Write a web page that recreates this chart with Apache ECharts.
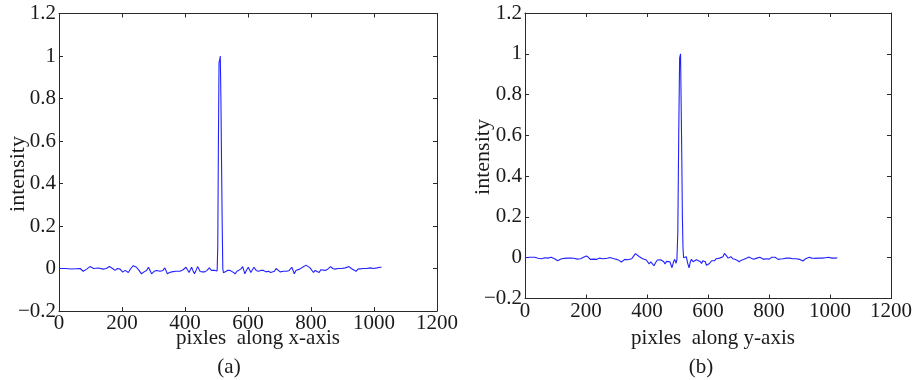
<!DOCTYPE html>
<html>
<head>
<meta charset="utf-8">
<script src="https://cdn.jsdelivr.net/npm/echarts@6/dist/echarts.min.js"></script>
<style>html,body{margin:0;padding:0;background:#fff}#c{width:915px;height:380px}</style>
</head>
<body>
<div id="c"></div>
<script>
// ---- data ----
var xTicks = [0, 200, 400, 600, 800, 1000, 1200];
var yTicks = [-0.2, 0, 0.2, 0.4, 0.6, 0.8, 1, 1.2];

var pixA = [0,20,40,67,77,88,98,110,125,140,150,160,170,178,186,194,202,210,215,220,228,236,246,254,262,270,278,284,289,294,302,310,321,330,336,344,351,358,370,384,394,403,408,413,417,421,425,430,435,440,448,455,463,470,477,484,490,495,498,502,504,506,508,510,512,514,516,518,520,522,527,535,543,551,559,565,570,577,583,590,596,601,609,614,619,626,633,641,649,657,665,672,678,684,689,695,702,712,723,731,739,747,752,758,764,770,777,784,790,797,803,808,813,818,826,831,837,845,853,862,869,876,886,897,909,921,928,934,943,949,955,966,977,988,998,1010,1019,1024];
var intA = [0,0,-0.002,0,-0.013,-0.003,0.009,0,0.002,-0.003,0,0.009,0,-0.009,0,-0.003,-0.017,-0.009,-0.003,-0.019,0,0.013,0.006,-0.009,-0.025,-0.016,-0.009,0.006,-0.009,-0.025,-0.013,-0.009,-0.013,-0.009,0.003,-0.025,-0.019,-0.016,-0.013,-0.013,-0.006,0.006,-0.003,-0.019,-0.006,0.006,-0.009,-0.025,-0.009,0.009,-0.014,-0.016,-0.016,-0.009,0.003,-0.009,-0.016,-0.009,-0.006,-0.012,0.1,0.57,0.97,0.98,1.0,0.8,0.5,0.22,0.0,-0.02,-0.022,-0.009,-0.009,-0.016,-0.025,-0.013,-0.009,-0.003,0.009,-0.025,-0.006,0.006,-0.019,-0.006,0.006,-0.009,-0.013,-0.009,-0.009,-0.016,-0.013,-0.019,-0.028,-0.013,0,-0.009,-0.016,-0.013,-0.013,-0.009,0.006,-0.025,-0.009,0,-0.003,0.003,0.009,0.016,0.009,0.003,-0.006,-0.019,-0.009,-0.009,-0.019,-0.006,0.003,-0.009,-0.003,0.009,0,-0.003,0,0,0.003,0.009,0,-0.003,-0.013,-0.003,0.003,0,0,0.003,0,0.003,0.006,0.006];

var pixB = [0,16,32,43,54,65,75,86,97,107,118,129,140,150,160,171,182,192,201,208,214,225,236,243,249,256,262,270,278,284,292,300,308,316,322,327,332,337,343,350,356,362,368,375,380,386,392,398,402,407,412,418,423,428,434,440,445,450,455,459,464,469,475,482,487,491,495,498,501,504,507,510,512,514,516,518,520,523,526,529,533,538,542,546,551,557,562,568,574,579,583,587,591,595,600,605,612,621,627,632,638,643,649,654,660,666,671,675,681,688,695,702,710,718,726,734,742,750,760,770,776,782,790,801,808,814,820,826,830,838,846,857,868,878,889,900,911,920,932,940,948,954,962,975,985,996,1006,1018,1024];
var intB = [0,0.002,0.002,-0.003,-0.005,0,-0.002,0.002,-0.005,-0.015,-0.006,-0.003,-0.002,-0.002,-0.003,-0.007,-0.005,0.002,0.008,0.002,-0.008,-0.007,-0.008,-0.002,0.003,-0.005,-0.008,-0.003,0.001,0.002,-0.005,-0.008,-0.013,-0.021,-0.012,-0.008,-0.003,-0.01,-0.015,-0.005,0.008,0.02,0.012,0.005,-0.002,-0.005,-0.008,-0.011,-0.02,-0.031,-0.02,-0.021,-0.039,-0.025,-0.011,-0.015,-0.01,-0.011,-0.02,-0.031,-0.018,-0.011,-0.02,-0.049,-0.02,-0.008,-0.028,-0.011,0.12,0.6,0.98,1.0,0.75,0.5,0.2,0.05,0.0,-0.008,0.0,0.005,-0.025,-0.05,-0.02,-0.008,-0.02,-0.021,-0.01,-0.005,-0.018,-0.028,-0.015,-0.008,-0.02,-0.037,-0.028,-0.028,-0.015,-0.015,-0.005,0.002,-0.002,-0.005,0.005,0.021,0.01,-0.002,0.003,0.005,-0.005,-0.008,-0.012,-0.02,-0.012,-0.008,-0.003,0.003,-0.003,-0.008,-0.002,0.002,-0.005,-0.008,-0.005,-0.007,0.002,0.011,0.002,-0.005,-0.008,-0.006,-0.005,-0.002,-0.002,-0.005,-0.005,-0.008,-0.016,-0.005,0.002,-0.002,-0.003,-0.005,-0.002,-0.002,0,0.002,-0.002,-0.002,0];

var xNameA = 'pixles  along x-axis';
var xNameB = 'pixles  along y-axis';
var yName = 'intensity';
var capA = '(a)', capB = '(b)';

// ---- chart ----
var FONT = 'Liberation Serif';
var TXT = '#1a1a1a';
var LINE = '#2a2a2a';
var FS = 21;
function pairs(xs, ys) { return xs.map(function (x, i) { return [x, ys[i]]; }); }
function yFmt(v) { var s = String(+(+v).toFixed(1)); return s.replace('-', '\u2212'); }
function xFmt(v) { return String(Math.round(v)); }

var grids = [
  { left: 59, top: 13.5, width: 378, height: 297.5 },
  { left: 525, top: 13, width: 373, height: 285.5 }
];

var xAxes = [], yAxes = [], series = [];
[0, 1].forEach(function (g) {
  var common = { min: xTicks[0], max: xTicks[xTicks.length - 1], interval: 200, gridIndex: g, type: 'value',
    splitLine: { show: false }, axisLine: { show: true, onZero: false, lineStyle: { color: LINE, width: 1 } },
    axisTick: { show: true, inside: true, length: 4, lineStyle: { color: LINE } } };
  xAxes.push(Object.assign({}, common, { position: 'bottom',
    axisLabel: { show: true, fontFamily: FONT, fontSize: FS, color: TXT, margin: 2, formatter: xFmt } }));
  xAxes.push(Object.assign({}, common, { position: 'top', axisLabel: { show: false } }));
  var ycommon = { min: yTicks[0], max: yTicks[yTicks.length - 1], interval: 0.2, gridIndex: g, type: 'value',
    splitLine: { show: false }, axisLine: { show: true, onZero: false, lineStyle: { color: LINE, width: 1 } },
    axisTick: { show: true, inside: true, length: 4, lineStyle: { color: LINE } } };
  yAxes.push(Object.assign({}, ycommon, { position: 'left',
    axisLabel: { show: true, fontFamily: FONT, fontSize: FS, color: TXT, margin: 3, formatter: yFmt } }));
  yAxes.push(Object.assign({}, ycommon, { position: 'right', axisLabel: { show: false } }));
});

series.push({ type: 'line', xAxisIndex: 0, yAxisIndex: 0, data: pairs(pixA, intA), showSymbol: false,
  lineStyle: { color: '#2222ff', width: 1.1 }, animation: false });
series.push({ type: 'line', xAxisIndex: 2, yAxisIndex: 2, data: pairs(pixB, intB), showSymbol: false,
  lineStyle: { color: '#2222ff', width: 1.1 }, animation: false });

function txt(x, y, s, rot, fs) {
  return { type: 'text', x: x, y: y, rotation: rot || 0,
    style: { text: s, font: (fs || FS) + 'px "' + FONT + '"', fill: TXT, align: 'center', verticalAlign: 'middle' } };
}

var chart = echarts.init(document.getElementById('c'), null, { renderer: 'canvas' });
chart.setOption({
  animation: false,
  backgroundColor: '#fff',
  grid: grids,
  xAxis: xAxes,
  yAxis: yAxes,
  series: series,
  graphic: [
    txt(258, 338, xNameA), txt(713, 338, xNameB),
    txt(18, 174, yName, Math.PI / 2, 22), txt(483, 157, yName, Math.PI / 2, 22),
    txt(229, 367, capA), txt(701, 367, capB)
  ]
});
</script>
</body>
</html>
